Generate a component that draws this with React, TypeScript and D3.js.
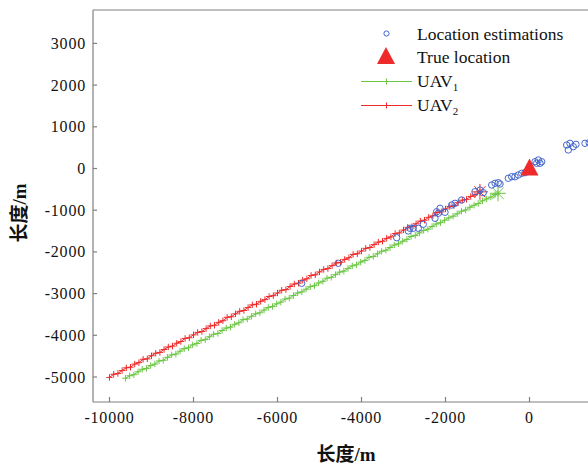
import React from 'react';
import * as d3 from 'd3';

// axis tick values
const xTicks = [-10000, -8000, -6000, -4000, -2000, 0];
const yTicks = [-5000, -4000, -3000, -2000, -1000, 0, 1000, 2000, 3000];

// estimated target positions [x, y] in metres
const estimations: [number, number][] = [
  [1420, 620], [1321, 604], [1107, 580], [1043, 523], [964, 604], [924, 444], [885, 563],
  [290, 163], [250, 125], [210, 204], [171, 125], [131, 163],
  [-107, -100], [-186, -115], [-267, -156], [-345, -197], [-424, -197], [-505, -235],
  [-702, -372], [-743, -340], [-821, -355], [-900, -396],
  [-1100, -580], [-1179, -516], [-1298, -556],
  [-1614, -755], [-1774, -835], [-1852, -875],
  [-2012, -1050], [-2131, -954], [-2171, -1074], [-2210, -1036], [-2250, -1194],
  [-2529, -1338], [-2648, -1434], [-2767, -1434], [-2845, -1434], [-2886, -1499], [-3162, -1660],
  [-4552, -2273], [-5424, -2753],
];

const trueLocation: [number, number] = [0, 0];

// UAV1 track (green)
const uav1: [number, number][] = [
  [-9620, -5030], [-9520, -4970], [-9420, -4945], [-9320, -4875], [-9220, -4815],
  [-9120, -4795], [-9020, -4725], [-8920, -4690], [-8820, -4615], [-8720, -4600],
  [-8620, -4530], [-8520, -4470], [-8420, -4450], [-8320, -4380], [-8220, -4320],
  [-8120, -4300], [-8020, -4230], [-7920, -4195], [-7820, -4120], [-7720, -4105],
  [-7620, -4035], [-7520, -3975], [-7420, -3955], [-7320, -3885], [-7220, -3825],
  [-7120, -3805], [-7020, -3735], [-6920, -3700], [-6820, -3625], [-6720, -3610],
  [-6620, -3545], [-6520, -3485], [-6420, -3460], [-6320, -3395], [-6220, -3335],
  [-6120, -3310], [-6020, -3245], [-5920, -3205], [-5820, -3130], [-5720, -3110],
  [-5620, -3045], [-5520, -2985], [-5420, -2960], [-5320, -2895], [-5220, -2835],
  [-5120, -2810], [-5020, -2745], [-4920, -2705], [-4820, -2630], [-4720, -2610],
  [-4620, -2545], [-4520, -2485], [-4420, -2460], [-4320, -2395], [-4220, -2335],
  [-4120, -2310], [-4020, -2245], [-3920, -2205], [-3820, -2130], [-3720, -2110],
  [-3620, -2045], [-3520, -1985], [-3420, -1960], [-3320, -1895], [-3220, -1835],
  [-3120, -1805], [-3020, -1745], [-2920, -1700], [-2820, -1630], [-2720, -1605],
  [-2620, -1545], [-2520, -1485], [-2420, -1455], [-2320, -1390], [-2220, -1330],
  [-2120, -1300], [-2020, -1240], [-1920, -1185], [-1820, -1145], [-1720, -1085],
  [-1620, -1025], [-1520, -995], [-1420, -930], [-1320, -880], [-1220, -840],
  [-1120, -775], [-1020, -730], [-920, -685], [-820, -625], [-750, -595],
];

// UAV2 track (red)
const uav2: [number, number][] = [
  [-10000, -5010], [-9900, -4935], [-9800, -4915], [-9700, -4845], [-9600, -4780],
  [-9500, -4765], [-9400, -4690], [-9300, -4655], [-9200, -4575], [-9100, -4565],
  [-9000, -4490], [-8900, -4430], [-8800, -4410], [-8700, -4340], [-8600, -4280],
  [-8500, -4260], [-8400, -4190], [-8300, -4150], [-8200, -4075], [-8100, -4060],
  [-8000, -3990], [-7900, -3930], [-7800, -3910], [-7700, -3840], [-7600, -3775],
  [-7500, -3760], [-7400, -3690], [-7300, -3650], [-7200, -3570], [-7100, -3555],
  [-7000, -3485], [-6900, -3425], [-6800, -3405], [-6700, -3335], [-6600, -3270],
  [-6500, -3255], [-6400, -3185], [-6300, -3145], [-6200, -3070], [-6100, -3050],
  [-6000, -2985], [-5900, -2920], [-5800, -2905], [-5700, -2830], [-5600, -2770],
  [-5500, -2750], [-5400, -2680], [-5300, -2645], [-5200, -2565], [-5100, -2550],
  [-5000, -2480], [-4900, -2420], [-4800, -2400], [-4700, -2330], [-4600, -2265],
  [-4500, -2250], [-4400, -2180], [-4300, -2140], [-4200, -2060], [-4100, -2045],
  [-4000, -1980], [-3900, -1915], [-3800, -1895], [-3700, -1825], [-3600, -1765],
  [-3500, -1745], [-3400, -1675], [-3300, -1640], [-3200, -1560], [-3100, -1545],
  [-3000, -1475], [-2900, -1410], [-2800, -1395], [-2700, -1325], [-2600, -1260],
  [-2500, -1240], [-2400, -1170], [-2300, -1135], [-2200, -1055], [-2100, -1040],
  [-2000, -970], [-1900, -910], [-1800, -890], [-1700, -820], [-1600, -760],
  [-1500, -740], [-1400, -670], [-1300, -630], [-1180, -560],
];

const W = 588;
const H = 466;
const left = 93;
const top = 10;
const bottom = 402;

const GREEN = '#6cc644';
const RED = '#ee2a2a';
const BLUE = '#4466cc';
const AXIS = '#808080';
const serif = '"Liberation Serif", "Times New Roman", serif';
const cjk = '"Liberation Serif", "Noto Sans CJK SC", serif';

const x = d3.scaleLinear().domain([-10000, 0]).range([109.5, 529.5]);
const y = d3.scaleLinear().domain([-5000, 3000]).range([377, 43.4]);

const line = d3.line<[number, number]>().x((d) => x(d[0])).y((d) => y(d[1]));

const plus = (cx: number, cy: number, r = 3.2) =>
  `M${cx - r},${cy}L${cx + r},${cy}M${cx},${cy - r}L${cx},${cy + r}`;

const star = (cx: number, cy: number, r = 8) => {
  let p = '';
  for (let i = 0; i < 4; i++) {
    const a = (i * Math.PI) / 4;
    const dx = Math.cos(a) * r;
    const dy = Math.sin(a) * r;
    p += `M${cx - dx},${cy - dy}L${cx + dx},${cy + dy}`;
  }
  return p;
};

const triangle = (cx: number, cy: number) =>
  `M${cx},${cy - 10}L${cx + 9},${cy + 7}L${cx - 9},${cy + 7}Z`;

const Track = ({ data, color }: { data: [number, number][]; color: string }) => {
  const last = data[data.length - 1];
  return (
    <g>
      <path d={line(data) || ''} fill="none" stroke={color} strokeWidth={1} />
      <path
        d={data.map((d) => plus(x(d[0]), y(d[1]))).join('')}
        fill="none"
        stroke={color}
        strokeWidth={1}
      />
      <path d={star(x(last[0]), y(last[1]))} fill="none" stroke={color} strokeWidth={1} />
    </g>
  );
};

export default function App() {
  return (
    <svg
      width={W}
      height={H}
      style={{ position: 'absolute', left: 0, top: 0, background: '#fff' }}
    >
      <defs>
        <clipPath id="plot">
          <rect x={left} y={top} width={W - left} height={bottom - top} />
        </clipPath>
      </defs>

      <g clipPath="url(#plot)">
        <Track data={uav1} color={GREEN} />
        <Track data={uav2} color={RED} />
        {estimations.map((d, i) => (
          <circle key={i} cx={x(d[0])} cy={y(d[1])} r={3.2} fill="none" stroke={BLUE} strokeWidth={1} />
        ))}
        <path d={triangle(x(trueLocation[0]), y(trueLocation[1]))} fill={RED} />
      </g>

      {/* axes frame */}
      <g stroke={AXIS} strokeWidth={1.2} fill="none">
        <line x1={left} y1={top} x2={W} y2={top} />
        <line x1={left} y1={top} x2={left} y2={bottom} />
        <line x1={left} y1={bottom} x2={W} y2={bottom} />
        {yTicks.map((t) => (
          <line key={t} x1={left} x2={left + 4} y1={y(t)} y2={y(t)} />
        ))}
        {xTicks.map((t) => (
          <line key={t} x1={x(t)} x2={x(t)} y1={bottom} y2={bottom - 5} />
        ))}
      </g>

      <g fontFamily={serif} fontSize={16} fill="#111" letterSpacing={0.8}>
        {yTicks.map((t) => (
          <text key={t} x={86} y={y(t) + 5.5} textAnchor="end">
            {t}
          </text>
        ))}
        {xTicks.map((t) => (
          <text key={t} x={x(t)} y={423} textAnchor="middle">
            {t}
          </text>
        ))}
      </g>

      {/* axis titles */}
      <text x={346} y={461} textAnchor="middle" fontFamily={cjk} fontSize={19} fontWeight="bold" fill="#111">
        长度/m
      </text>
      <text
        transform="translate(26,213) rotate(-90)"
        textAnchor="middle"
        fontFamily={cjk}
        fontSize={19}
        fontWeight="bold"
        fill="#111"
      >
        长度/m
      </text>

      {/* legend */}
      <g fontFamily={serif} fontSize={17.5} fill="#111">
        <circle cx={386.5} cy={33.5} r={2.6} fill="none" stroke={BLUE} strokeWidth={1} />
        <text x={417} y={40}>Location estimations</text>
        <path d={triangle(386, 57)} fill={RED} />
        <text x={417} y={63}>True location</text>
        <line x1={361} x2={412} y1={81.5} y2={81.5} stroke={GREEN} strokeWidth={1} />
        <path d={plus(386.5, 81.5, 3)} stroke={GREEN} strokeWidth={1} />
        <text x={417} y={87}>
          UAV<tspan fontSize={11} dy={4}>1</tspan>
        </text>
        <line x1={361} x2={412} y1={105.5} y2={105.5} stroke={RED} strokeWidth={1} />
        <path d={plus(386.5, 105.5, 3)} stroke={RED} strokeWidth={1} />
        <text x={417} y={111}>
          UAV<tspan fontSize={11} dy={4}>2</tspan>
        </text>
      </g>
    </svg>
  );
}
